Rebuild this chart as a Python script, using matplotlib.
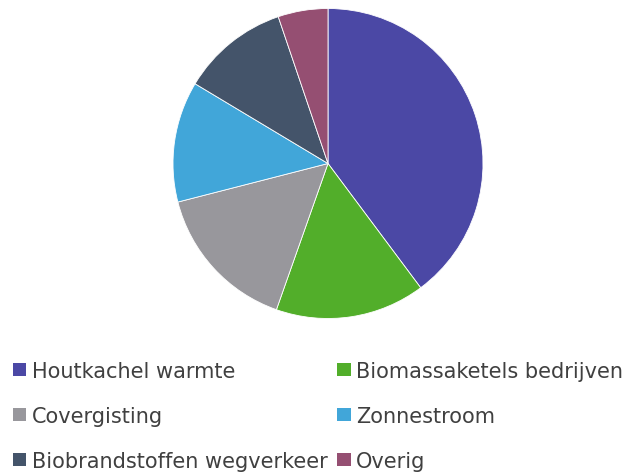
import matplotlib
matplotlib.use("Agg")
import matplotlib.pyplot as plt
from matplotlib.patches import Rectangle

categories = ["Houtkachel warmte", "Biomassaketels bedrijven", "Covergisting",
              "Zonnestroom", "Biobrandstoffen wegverkeer", "Overig"]
values = [39.8, 15.6, 15.6, 12.6, 11.2, 5.2]
colors = ["#4B48A5", "#52AE2A", "#98979C", "#41A6D9", "#44546A", "#954F72"]

W, H = 624, 477
fig = plt.figure(figsize=(W / 100, H / 100), dpi=100)

# pie axes: center (328,164.5), radius 155 px
cx, cy, r = 328, 164.5, 155
ax = fig.add_axes([(cx - r) / W, (H - cy - r) / H, 2 * r / W, 2 * r / H])
ax.pie(values, colors=colors, startangle=90, counterclock=False,
       wedgeprops=dict(edgecolor="white", linewidth=0.6))
ax.set_aspect("equal")
ax.set_xlim(-1, 1)
ax.set_ylim(-1, 1)
ax.axis("off")

# legend, two columns, three rows
col_x = [12.5, 337]
row_y = [370.5, 415.5, 460.5]
sq = 13.5
for i, (lab, col) in enumerate(zip(categories, colors)):
    row, c = divmod(i, 2)
    x = col_x[c]
    y = row_y[row]
    fig.patches.append(Rectangle((x / W, (H - y - sq / 2) / H), sq / W, sq / H,
                                 transform=fig.transFigure, facecolor=col,
                                 edgecolor="none"))
    fig.text((x + sq + 5.5) / W, (H - y - sq / 2 - 0.5) / H, lab, fontsize=15,
             color="#404040", va="baseline", ha="left",
             family="DejaVu Sans")

fig.savefig("out.png", dpi=100, facecolor="white")
